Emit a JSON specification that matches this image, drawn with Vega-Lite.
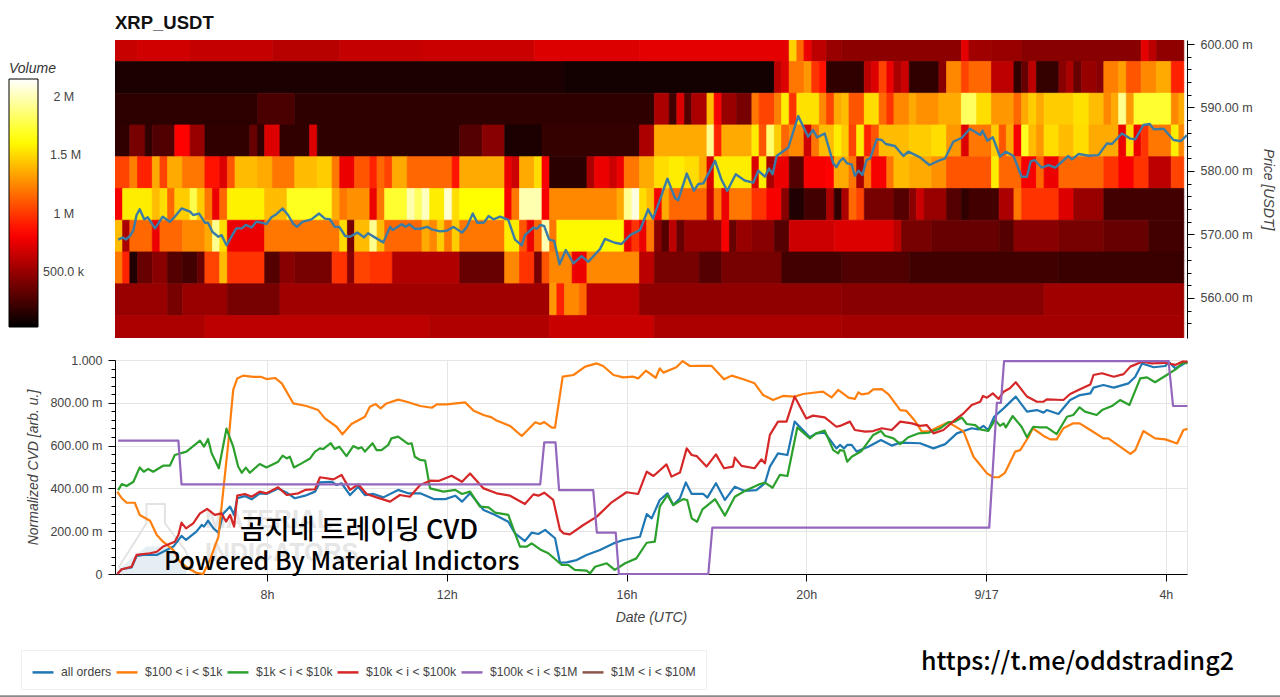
{"$schema":"https://vega.github.io/schema/vega-lite/v6.json","padding":{"left":-2,"top":13,"right":0,"bottom":0},"background":"white","spacing":15,"config":{"font":"Liberation Sans","view":{"stroke":null},"axis":{"labelFont":"Liberation Sans","titleFont":"Liberation Sans","labelFontSize":12.5,"labelColor":"#444","titleColor":"#444","titleFontSize":14,"titleFontStyle":"italic","titleFontWeight":"normal"},"legend":{"labelFont":"Liberation Sans","titleFont":"Liberation Sans"}},
"datasets":{
"heat":[
{"a":4.62,"b":5.12,"lo":597.25,"hi":602.25,"v":650},{"a":5.12,"b":6.29,"lo":597.25,"hi":602.25,"v":680},{"a":6.29,"b":8.12,"lo":597.25,"hi":602.25,"v":640},{"a":8.12,"b":9.62,"lo":597.25,"hi":602.25,"v":600},{"a":9.62,"b":11.45,"lo":597.25,"hi":602.25,"v":640},{"a":11.45,"b":13.95,"lo":597.25,"hi":602.25,"v":660},{"a":13.95,"b":16.29,"lo":597.25,"hi":602.25,"v":720},{"a":16.29,"b":19.62,"lo":597.25,"hi":602.25,"v":740},{"a":19.62,"b":19.79,"lo":597.25,"hi":602.25,"v":1480},{"a":19.79,"b":19.95,"lo":597.25,"hi":602.25,"v":1145},{"a":19.95,"b":20.12,"lo":597.25,"hi":602.25,"v":770},{"a":20.12,"b":20.45,"lo":597.25,"hi":602.25,"v":615},{"a":20.45,"b":20.79,"lo":597.25,"hi":602.25,"v":505},{"a":20.79,"b":23.45,"lo":597.25,"hi":602.25,"v":470},{"a":23.45,"b":23.62,"lo":597.25,"hi":602.25,"v":740},{"a":23.62,"b":24.12,"lo":597.25,"hi":602.25,"v":530},{"a":24.12,"b":24.79,"lo":597.25,"hi":602.25,"v":505},{"a":24.79,"b":27.45,"lo":597.25,"hi":602.25,"v":455},{"a":27.45,"b":27.62,"lo":597.25,"hi":602.25,"v":740},{"a":27.62,"b":27.79,"lo":597.25,"hi":602.25,"v":615},{"a":27.79,"b":28.4,"lo":597.25,"hi":602.25,"v":480},
{"a":4.62,"b":14.62,"lo":592.25,"hi":597.25,"v":110},{"a":14.62,"b":19.29,"lo":592.25,"hi":597.25,"v":90},{"a":19.29,"b":19.45,"lo":592.25,"hi":597.25,"v":615},{"a":19.45,"b":19.62,"lo":592.25,"hi":597.25,"v":720},{"a":19.62,"b":19.95,"lo":592.25,"hi":597.25,"v":1195},{"a":19.95,"b":20.12,"lo":592.25,"hi":597.25,"v":1300},{"a":20.12,"b":20.29,"lo":592.25,"hi":597.25,"v":985},{"a":20.29,"b":20.45,"lo":592.25,"hi":597.25,"v":880},{"a":20.45,"b":21.29,"lo":592.25,"hi":597.25,"v":180},{"a":21.29,"b":21.45,"lo":592.25,"hi":597.25,"v":615},{"a":21.45,"b":21.62,"lo":592.25,"hi":597.25,"v":720},{"a":21.62,"b":21.79,"lo":592.25,"hi":597.25,"v":1035},{"a":21.79,"b":21.95,"lo":592.25,"hi":597.25,"v":770},{"a":21.95,"b":22.12,"lo":592.25,"hi":597.25,"v":560},{"a":22.12,"b":22.29,"lo":592.25,"hi":597.25,"v":665},{"a":22.29,"b":22.95,"lo":592.25,"hi":597.25,"v":180},{"a":22.95,"b":23.12,"lo":592.25,"hi":597.25,"v":455},{"a":23.12,"b":23.45,"lo":592.25,"hi":597.25,"v":1250},{"a":23.45,"b":23.62,"lo":592.25,"hi":597.25,"v":1035},{"a":23.62,"b":24.12,"lo":592.25,"hi":597.25,"v":1145},{"a":24.12,"b":24.62,"lo":592.25,"hi":597.25,"v":615},{"a":24.62,"b":24.79,"lo":592.25,"hi":597.25,"v":180},{"a":24.79,"b":24.95,"lo":592.25,"hi":597.25,"v":350},{"a":24.95,"b":25.12,"lo":592.25,"hi":597.25,"v":615},{"a":25.12,"b":25.62,"lo":592.25,"hi":597.25,"v":195},{"a":25.62,"b":25.79,"lo":592.25,"hi":597.25,"v":455},{"a":25.79,"b":25.95,"lo":592.25,"hi":597.25,"v":560},{"a":25.95,"b":26.12,"lo":592.25,"hi":597.25,"v":350},{"a":26.12,"b":26.45,"lo":592.25,"hi":597.25,"v":505},{"a":26.45,"b":26.62,"lo":592.25,"hi":597.25,"v":455},{"a":26.62,"b":26.95,"lo":592.25,"hi":597.25,"v":1225},{"a":26.95,"b":27.12,"lo":592.25,"hi":597.25,"v":1325},{"a":27.12,"b":27.45,"lo":592.25,"hi":597.25,"v":1090},{"a":27.45,"b":27.79,"lo":592.25,"hi":597.25,"v":1250},{"a":27.79,"b":28.12,"lo":592.25,"hi":597.25,"v":1355},{"a":28.12,"b":28.4,"lo":592.25,"hi":597.25,"v":930},
{"a":4.62,"b":7.79,"lo":587.25,"hi":592.25,"v":170},{"a":7.79,"b":8.62,"lo":587.25,"hi":592.25,"v":260},{"a":8.62,"b":16.62,"lo":587.25,"hi":592.25,"v":175},{"a":16.62,"b":16.95,"lo":587.25,"hi":592.25,"v":560},{"a":16.95,"b":17.12,"lo":587.25,"hi":592.25,"v":230},{"a":17.12,"b":17.29,"lo":587.25,"hi":592.25,"v":720},{"a":17.29,"b":17.45,"lo":587.25,"hi":592.25,"v":295},{"a":17.45,"b":17.79,"lo":587.25,"hi":592.25,"v":560},{"a":17.79,"b":17.95,"lo":587.25,"hi":592.25,"v":1410},{"a":17.95,"b":18.12,"lo":587.25,"hi":592.25,"v":800},{"a":18.12,"b":18.45,"lo":587.25,"hi":592.25,"v":505},{"a":18.45,"b":18.79,"lo":587.25,"hi":592.25,"v":400},{"a":18.79,"b":18.95,"lo":587.25,"hi":592.25,"v":1195},{"a":18.95,"b":19.29,"lo":587.25,"hi":592.25,"v":1035},{"a":19.29,"b":19.45,"lo":587.25,"hi":592.25,"v":1225},{"a":19.45,"b":19.62,"lo":587.25,"hi":592.25,"v":1565},{"a":19.62,"b":19.79,"lo":587.25,"hi":592.25,"v":985},{"a":19.79,"b":20.29,"lo":587.25,"hi":592.25,"v":1525},{"a":20.29,"b":20.45,"lo":587.25,"hi":592.25,"v":1250},{"a":20.45,"b":20.62,"lo":587.25,"hi":592.25,"v":1035},{"a":20.62,"b":20.79,"lo":587.25,"hi":592.25,"v":1355},{"a":20.79,"b":20.95,"lo":587.25,"hi":592.25,"v":1410},{"a":20.95,"b":21.29,"lo":587.25,"hi":592.25,"v":1090},{"a":21.29,"b":21.62,"lo":587.25,"hi":592.25,"v":1515},{"a":21.62,"b":21.79,"lo":587.25,"hi":592.25,"v":1145},{"a":21.79,"b":21.95,"lo":587.25,"hi":592.25,"v":985},{"a":21.95,"b":22.29,"lo":587.25,"hi":592.25,"v":1250},{"a":22.29,"b":22.45,"lo":587.25,"hi":592.25,"v":1355},{"a":22.45,"b":22.95,"lo":587.25,"hi":592.25,"v":1275},{"a":22.95,"b":23.45,"lo":587.25,"hi":592.25,"v":1355},{"a":23.45,"b":23.79,"lo":587.25,"hi":592.25,"v":1820},{"a":23.79,"b":24.12,"lo":587.25,"hi":592.25,"v":1515},{"a":24.12,"b":24.62,"lo":587.25,"hi":592.25,"v":1300},{"a":24.62,"b":24.79,"lo":587.25,"hi":592.25,"v":1145},{"a":24.79,"b":24.95,"lo":587.25,"hi":592.25,"v":1355},{"a":24.95,"b":25.12,"lo":587.25,"hi":592.25,"v":1460},{"a":25.12,"b":25.29,"lo":587.25,"hi":592.25,"v":1355},{"a":25.29,"b":25.95,"lo":587.25,"hi":592.25,"v":1460},{"a":25.95,"b":26.29,"lo":587.25,"hi":592.25,"v":1525},{"a":26.29,"b":26.62,"lo":587.25,"hi":592.25,"v":1410},{"a":26.62,"b":26.79,"lo":587.25,"hi":592.25,"v":1250},{"a":26.79,"b":26.95,"lo":587.25,"hi":592.25,"v":1355},{"a":26.95,"b":27.12,"lo":587.25,"hi":592.25,"v":1920},{"a":27.12,"b":27.29,"lo":587.25,"hi":592.25,"v":1300},{"a":27.29,"b":28.12,"lo":587.25,"hi":592.25,"v":1720},{"a":28.12,"b":28.29,"lo":587.25,"hi":592.25,"v":1250},{"a":28.29,"b":28.4,"lo":587.25,"hi":592.25,"v":1355},
{"a":4.62,"b":4.95,"lo":582.25,"hi":587.25,"v":180},{"a":4.95,"b":5.29,"lo":582.25,"hi":587.25,"v":400},{"a":5.29,"b":5.45,"lo":582.25,"hi":587.25,"v":180},{"a":5.45,"b":5.95,"lo":582.25,"hi":587.25,"v":280},{"a":5.95,"b":6.29,"lo":582.25,"hi":587.25,"v":830},{"a":6.29,"b":6.62,"lo":582.25,"hi":587.25,"v":505},{"a":6.62,"b":7.62,"lo":582.25,"hi":587.25,"v":180},{"a":7.62,"b":7.79,"lo":582.25,"hi":587.25,"v":350},{"a":7.79,"b":7.95,"lo":582.25,"hi":587.25,"v":180},{"a":7.95,"b":8.29,"lo":582.25,"hi":587.25,"v":720},{"a":8.29,"b":8.95,"lo":582.25,"hi":587.25,"v":180},{"a":8.95,"b":9.12,"lo":582.25,"hi":587.25,"v":720},{"a":9.12,"b":12.29,"lo":582.25,"hi":587.25,"v":175},{"a":12.29,"b":12.79,"lo":582.25,"hi":587.25,"v":295},{"a":12.79,"b":13.29,"lo":582.25,"hi":587.25,"v":455},{"a":13.29,"b":14.12,"lo":582.25,"hi":587.25,"v":110},{"a":14.12,"b":16.29,"lo":582.25,"hi":587.25,"v":195},{"a":16.29,"b":16.62,"lo":582.25,"hi":587.25,"v":560},{"a":16.62,"b":17.79,"lo":582.25,"hi":587.25,"v":1355},{"a":17.79,"b":17.95,"lo":582.25,"hi":587.25,"v":1920},{"a":17.95,"b":18.12,"lo":582.25,"hi":587.25,"v":930},{"a":18.12,"b":18.79,"lo":582.25,"hi":587.25,"v":1355},{"a":18.79,"b":18.95,"lo":582.25,"hi":587.25,"v":1565},{"a":18.95,"b":19.12,"lo":582.25,"hi":587.25,"v":1090},{"a":19.12,"b":19.29,"lo":582.25,"hi":587.25,"v":1850},{"a":19.29,"b":19.45,"lo":582.25,"hi":587.25,"v":1460},{"a":19.45,"b":19.62,"lo":582.25,"hi":587.25,"v":1145},{"a":19.62,"b":19.95,"lo":582.25,"hi":587.25,"v":1250},{"a":19.95,"b":20.12,"lo":582.25,"hi":587.25,"v":665},{"a":20.12,"b":20.29,"lo":582.25,"hi":587.25,"v":1195},{"a":20.29,"b":20.62,"lo":582.25,"hi":587.25,"v":1410},{"a":20.62,"b":20.79,"lo":582.25,"hi":587.25,"v":1565},{"a":20.79,"b":20.95,"lo":582.25,"hi":587.25,"v":1460},{"a":20.95,"b":21.12,"lo":582.25,"hi":587.25,"v":1035},{"a":21.12,"b":21.29,"lo":582.25,"hi":587.25,"v":1565},{"a":21.29,"b":21.45,"lo":582.25,"hi":587.25,"v":930},{"a":21.45,"b":21.62,"lo":582.25,"hi":587.25,"v":1090},{"a":21.62,"b":22.29,"lo":582.25,"hi":587.25,"v":1410},{"a":22.29,"b":22.79,"lo":582.25,"hi":587.25,"v":1460},{"a":22.79,"b":23.12,"lo":582.25,"hi":587.25,"v":1515},{"a":23.12,"b":23.45,"lo":582.25,"hi":587.25,"v":1300},{"a":23.45,"b":23.62,"lo":582.25,"hi":587.25,"v":720},{"a":23.62,"b":24.12,"lo":582.25,"hi":587.25,"v":1195},{"a":24.12,"b":24.29,"lo":582.25,"hi":587.25,"v":1460},{"a":24.29,"b":24.45,"lo":582.25,"hi":587.25,"v":1090},{"a":24.45,"b":24.62,"lo":582.25,"hi":587.25,"v":1355},{"a":24.62,"b":24.79,"lo":582.25,"hi":587.25,"v":800},{"a":24.79,"b":24.95,"lo":582.25,"hi":587.25,"v":1685},{"a":24.95,"b":25.12,"lo":582.25,"hi":587.25,"v":1410},{"a":25.12,"b":25.29,"lo":582.25,"hi":587.25,"v":1300},{"a":25.29,"b":25.62,"lo":582.25,"hi":587.25,"v":1515},{"a":25.62,"b":25.95,"lo":582.25,"hi":587.25,"v":1410},{"a":25.95,"b":26.29,"lo":582.25,"hi":587.25,"v":1515},{"a":26.29,"b":26.95,"lo":582.25,"hi":587.25,"v":1355},{"a":26.95,"b":27.12,"lo":582.25,"hi":587.25,"v":770},{"a":27.12,"b":27.29,"lo":582.25,"hi":587.25,"v":1515},{"a":27.29,"b":27.45,"lo":582.25,"hi":587.25,"v":770},{"a":27.45,"b":27.62,"lo":582.25,"hi":587.25,"v":985},{"a":27.62,"b":28.12,"lo":582.25,"hi":587.25,"v":1195},{"a":28.12,"b":28.29,"lo":582.25,"hi":587.25,"v":1565},{"a":28.29,"b":28.4,"lo":582.25,"hi":587.25,"v":1250},
{"a":4.62,"b":4.95,"lo":577.25,"hi":582.25,"v":1035},{"a":4.95,"b":5.12,"lo":577.25,"hi":582.25,"v":1225},{"a":5.12,"b":5.45,"lo":577.25,"hi":582.25,"v":930},{"a":5.45,"b":5.62,"lo":577.25,"hi":582.25,"v":1355},{"a":5.62,"b":5.79,"lo":577.25,"hi":582.25,"v":1035},{"a":5.79,"b":6.12,"lo":577.25,"hi":582.25,"v":1355},{"a":6.12,"b":6.62,"lo":577.25,"hi":582.25,"v":1195},{"a":6.62,"b":6.95,"lo":577.25,"hi":582.25,"v":880},{"a":6.95,"b":7.12,"lo":577.25,"hi":582.25,"v":720},{"a":7.12,"b":7.29,"lo":577.25,"hi":582.25,"v":1090},{"a":7.29,"b":7.79,"lo":577.25,"hi":582.25,"v":1410},{"a":7.79,"b":8.12,"lo":577.25,"hi":582.25,"v":1355},{"a":8.12,"b":8.62,"lo":577.25,"hi":582.25,"v":1195},{"a":8.62,"b":9.12,"lo":577.25,"hi":582.25,"v":1410},{"a":9.12,"b":9.45,"lo":577.25,"hi":582.25,"v":1460},{"a":9.45,"b":9.62,"lo":577.25,"hi":582.25,"v":1195},{"a":9.62,"b":9.95,"lo":577.25,"hi":582.25,"v":770},{"a":9.95,"b":10.29,"lo":577.25,"hi":582.25,"v":1090},{"a":10.29,"b":10.45,"lo":577.25,"hi":582.25,"v":930},{"a":10.45,"b":10.62,"lo":577.25,"hi":582.25,"v":1145},{"a":10.62,"b":10.79,"lo":577.25,"hi":582.25,"v":1035},{"a":10.79,"b":11.12,"lo":577.25,"hi":582.25,"v":1355},{"a":11.12,"b":12.12,"lo":577.25,"hi":582.25,"v":1145},{"a":12.12,"b":12.29,"lo":577.25,"hi":582.25,"v":880},{"a":12.29,"b":13.29,"lo":577.25,"hi":582.25,"v":1355},{"a":13.29,"b":13.45,"lo":577.25,"hi":582.25,"v":770},{"a":13.45,"b":13.62,"lo":577.25,"hi":582.25,"v":665},{"a":13.62,"b":13.95,"lo":577.25,"hi":582.25,"v":1355},{"a":13.95,"b":14.12,"lo":577.25,"hi":582.25,"v":1515},{"a":14.12,"b":14.29,"lo":577.25,"hi":582.25,"v":800},{"a":14.29,"b":15.12,"lo":577.25,"hi":582.25,"v":160},{"a":15.12,"b":15.29,"lo":577.25,"hi":582.25,"v":560},{"a":15.29,"b":15.62,"lo":577.25,"hi":582.25,"v":770},{"a":15.62,"b":15.79,"lo":577.25,"hi":582.25,"v":665},{"a":15.79,"b":15.95,"lo":577.25,"hi":582.25,"v":770},{"a":15.95,"b":16.29,"lo":577.25,"hi":582.25,"v":1195},{"a":16.29,"b":16.62,"lo":577.25,"hi":582.25,"v":1355},{"a":16.62,"b":16.95,"lo":577.25,"hi":582.25,"v":1515},{"a":16.95,"b":17.29,"lo":577.25,"hi":582.25,"v":1565},{"a":17.29,"b":17.62,"lo":577.25,"hi":582.25,"v":1515},{"a":17.62,"b":17.79,"lo":577.25,"hi":582.25,"v":1355},{"a":17.79,"b":17.95,"lo":577.25,"hi":582.25,"v":720},{"a":17.95,"b":18.79,"lo":577.25,"hi":582.25,"v":1565},{"a":18.79,"b":18.95,"lo":577.25,"hi":582.25,"v":720},{"a":18.95,"b":19.12,"lo":577.25,"hi":582.25,"v":1565},{"a":19.12,"b":19.29,"lo":577.25,"hi":582.25,"v":560},{"a":19.29,"b":19.62,"lo":577.25,"hi":582.25,"v":770},{"a":19.62,"b":19.95,"lo":577.25,"hi":582.25,"v":295},{"a":19.95,"b":20.45,"lo":577.25,"hi":582.25,"v":800},{"a":20.45,"b":20.62,"lo":577.25,"hi":582.25,"v":830},{"a":20.62,"b":20.95,"lo":577.25,"hi":582.25,"v":1355},{"a":20.95,"b":21.12,"lo":577.25,"hi":582.25,"v":1195},{"a":21.12,"b":21.29,"lo":577.25,"hi":582.25,"v":560},{"a":21.29,"b":21.45,"lo":577.25,"hi":582.25,"v":1195},{"a":21.45,"b":21.79,"lo":577.25,"hi":582.25,"v":800},{"a":21.79,"b":21.95,"lo":577.25,"hi":582.25,"v":1195},{"a":21.95,"b":22.29,"lo":577.25,"hi":582.25,"v":1410},{"a":22.29,"b":22.79,"lo":577.25,"hi":582.25,"v":1355},{"a":22.79,"b":23.12,"lo":577.25,"hi":582.25,"v":1275},{"a":23.12,"b":24.12,"lo":577.25,"hi":582.25,"v":1090},{"a":24.12,"b":24.29,"lo":577.25,"hi":582.25,"v":1565},{"a":24.29,"b":24.79,"lo":577.25,"hi":582.25,"v":1145},{"a":24.79,"b":25.12,"lo":577.25,"hi":582.25,"v":800},{"a":25.12,"b":25.29,"lo":577.25,"hi":582.25,"v":1145},{"a":25.29,"b":25.62,"lo":577.25,"hi":582.25,"v":770},{"a":25.62,"b":26.62,"lo":577.25,"hi":582.25,"v":1145},{"a":26.62,"b":26.95,"lo":577.25,"hi":582.25,"v":985},{"a":26.95,"b":27.29,"lo":577.25,"hi":582.25,"v":800},{"a":27.29,"b":27.62,"lo":577.25,"hi":582.25,"v":985},{"a":27.62,"b":28.12,"lo":577.25,"hi":582.25,"v":615},{"a":28.12,"b":28.4,"lo":577.25,"hi":582.25,"v":1035},
{"a":4.62,"b":4.79,"lo":572.25,"hi":577.25,"v":800},{"a":4.79,"b":5.45,"lo":572.25,"hi":577.25,"v":1565},{"a":5.45,"b":5.62,"lo":572.25,"hi":577.25,"v":1410},{"a":5.62,"b":5.79,"lo":572.25,"hi":577.25,"v":1515},{"a":5.79,"b":5.95,"lo":572.25,"hi":577.25,"v":1145},{"a":5.95,"b":6.29,"lo":572.25,"hi":577.25,"v":1460},{"a":6.29,"b":6.45,"lo":572.25,"hi":577.25,"v":1785},{"a":6.45,"b":6.62,"lo":572.25,"hi":577.25,"v":1460},{"a":6.62,"b":6.79,"lo":572.25,"hi":577.25,"v":1195},{"a":6.79,"b":6.95,"lo":572.25,"hi":577.25,"v":770},{"a":6.95,"b":7.12,"lo":572.25,"hi":577.25,"v":1145},{"a":7.12,"b":7.95,"lo":572.25,"hi":577.25,"v":1580},{"a":7.95,"b":8.45,"lo":572.25,"hi":577.25,"v":1410},{"a":8.45,"b":9.45,"lo":572.25,"hi":577.25,"v":1685},{"a":9.45,"b":9.62,"lo":572.25,"hi":577.25,"v":1355},{"a":9.62,"b":9.79,"lo":572.25,"hi":577.25,"v":1195},{"a":9.79,"b":10.29,"lo":572.25,"hi":577.25,"v":1275},{"a":10.29,"b":10.45,"lo":572.25,"hi":577.25,"v":770},{"a":10.45,"b":10.62,"lo":572.25,"hi":577.25,"v":1195},{"a":10.62,"b":11.12,"lo":572.25,"hi":577.25,"v":1720},{"a":11.12,"b":11.29,"lo":572.25,"hi":577.25,"v":1985},{"a":11.29,"b":11.45,"lo":572.25,"hi":577.25,"v":1820},{"a":11.45,"b":11.62,"lo":572.25,"hi":577.25,"v":2020},{"a":11.62,"b":11.95,"lo":572.25,"hi":577.25,"v":1565},{"a":11.95,"b":12.12,"lo":572.25,"hi":577.25,"v":2050},{"a":12.12,"b":12.29,"lo":572.25,"hi":577.25,"v":1515},{"a":12.29,"b":13.29,"lo":572.25,"hi":577.25,"v":1620},{"a":13.29,"b":13.45,"lo":572.25,"hi":577.25,"v":800},{"a":13.45,"b":13.62,"lo":572.25,"hi":577.25,"v":1195},{"a":13.62,"b":14.12,"lo":572.25,"hi":577.25,"v":1985},{"a":14.12,"b":14.29,"lo":572.25,"hi":577.25,"v":800},{"a":14.29,"b":15.79,"lo":572.25,"hi":577.25,"v":1250},{"a":15.79,"b":15.95,"lo":572.25,"hi":577.25,"v":1355},{"a":15.95,"b":16.12,"lo":572.25,"hi":577.25,"v":1920},{"a":16.12,"b":16.29,"lo":572.25,"hi":577.25,"v":2085},{"a":16.29,"b":16.45,"lo":572.25,"hi":577.25,"v":1515},{"a":16.45,"b":16.62,"lo":572.25,"hi":577.25,"v":1410},{"a":16.62,"b":16.79,"lo":572.25,"hi":577.25,"v":800},{"a":16.79,"b":16.95,"lo":572.25,"hi":577.25,"v":1355},{"a":16.95,"b":17.79,"lo":572.25,"hi":577.25,"v":1145},{"a":17.79,"b":17.95,"lo":572.25,"hi":577.25,"v":665},{"a":17.95,"b":18.12,"lo":572.25,"hi":577.25,"v":1195},{"a":18.12,"b":18.29,"lo":572.25,"hi":577.25,"v":770},{"a":18.29,"b":18.79,"lo":572.25,"hi":577.25,"v":1195},{"a":18.79,"b":19.12,"lo":572.25,"hi":577.25,"v":985},{"a":19.12,"b":19.45,"lo":572.25,"hi":577.25,"v":800},{"a":19.45,"b":19.62,"lo":572.25,"hi":577.25,"v":455},{"a":19.62,"b":19.95,"lo":572.25,"hi":577.25,"v":130},{"a":19.95,"b":20.45,"lo":572.25,"hi":577.25,"v":240},{"a":20.45,"b":20.62,"lo":572.25,"hi":577.25,"v":560},{"a":20.62,"b":20.79,"lo":572.25,"hi":577.25,"v":180},{"a":20.79,"b":20.95,"lo":572.25,"hi":577.25,"v":560},{"a":20.95,"b":21.12,"lo":572.25,"hi":577.25,"v":1145},{"a":21.12,"b":21.29,"lo":572.25,"hi":577.25,"v":1035},{"a":21.29,"b":21.95,"lo":572.25,"hi":577.25,"v":400},{"a":21.95,"b":22.29,"lo":572.25,"hi":577.25,"v":295},{"a":22.29,"b":22.45,"lo":572.25,"hi":577.25,"v":455},{"a":22.45,"b":22.62,"lo":572.25,"hi":577.25,"v":665},{"a":22.62,"b":23.12,"lo":572.25,"hi":577.25,"v":505},{"a":23.12,"b":23.45,"lo":572.25,"hi":577.25,"v":295},{"a":23.45,"b":23.62,"lo":572.25,"hi":577.25,"v":180},{"a":23.62,"b":24.29,"lo":572.25,"hi":577.25,"v":240},{"a":24.29,"b":24.62,"lo":572.25,"hi":577.25,"v":560},{"a":24.62,"b":24.79,"lo":572.25,"hi":577.25,"v":1195},{"a":24.79,"b":25.62,"lo":572.25,"hi":577.25,"v":985},{"a":25.62,"b":25.95,"lo":572.25,"hi":577.25,"v":720},{"a":25.95,"b":26.62,"lo":572.25,"hi":577.25,"v":505},{"a":26.62,"b":28.4,"lo":572.25,"hi":577.25,"v":240},
{"a":4.62,"b":4.79,"lo":567.25,"hi":572.25,"v":1410},{"a":4.79,"b":4.95,"lo":567.25,"hi":572.25,"v":560},{"a":4.95,"b":5.45,"lo":567.25,"hi":572.25,"v":1145},{"a":5.45,"b":5.62,"lo":567.25,"hi":572.25,"v":770},{"a":5.62,"b":6.12,"lo":567.25,"hi":572.25,"v":1145},{"a":6.12,"b":6.62,"lo":567.25,"hi":572.25,"v":1250},{"a":6.62,"b":6.79,"lo":567.25,"hi":572.25,"v":1355},{"a":6.79,"b":6.95,"lo":567.25,"hi":572.25,"v":1920},{"a":6.95,"b":7.12,"lo":567.25,"hi":572.25,"v":1515},{"a":7.12,"b":7.95,"lo":567.25,"hi":572.25,"v":770},{"a":7.95,"b":9.62,"lo":567.25,"hi":572.25,"v":1195},{"a":9.62,"b":9.79,"lo":567.25,"hi":572.25,"v":1515},{"a":9.79,"b":9.95,"lo":567.25,"hi":572.25,"v":400},{"a":9.95,"b":10.29,"lo":567.25,"hi":572.25,"v":1410},{"a":10.29,"b":10.45,"lo":567.25,"hi":572.25,"v":1920},{"a":10.45,"b":10.62,"lo":567.25,"hi":572.25,"v":1410},{"a":10.62,"b":11.45,"lo":567.25,"hi":572.25,"v":1145},{"a":11.45,"b":11.62,"lo":567.25,"hi":572.25,"v":1355},{"a":11.62,"b":11.79,"lo":567.25,"hi":572.25,"v":1250},{"a":11.79,"b":11.95,"lo":567.25,"hi":572.25,"v":1460},{"a":11.95,"b":12.12,"lo":567.25,"hi":572.25,"v":1195},{"a":12.12,"b":12.29,"lo":567.25,"hi":572.25,"v":1460},{"a":12.29,"b":13.29,"lo":567.25,"hi":572.25,"v":1195},{"a":13.29,"b":13.62,"lo":567.25,"hi":572.25,"v":1565},{"a":13.62,"b":13.79,"lo":567.25,"hi":572.25,"v":1090},{"a":13.79,"b":13.95,"lo":567.25,"hi":572.25,"v":770},{"a":13.95,"b":14.12,"lo":567.25,"hi":572.25,"v":1145},{"a":14.12,"b":14.29,"lo":567.25,"hi":572.25,"v":1985},{"a":14.29,"b":14.45,"lo":567.25,"hi":572.25,"v":1195},{"a":14.45,"b":15.95,"lo":567.25,"hi":572.25,"v":1600},{"a":15.95,"b":16.12,"lo":567.25,"hi":572.25,"v":770},{"a":16.12,"b":16.29,"lo":567.25,"hi":572.25,"v":985},{"a":16.29,"b":16.45,"lo":567.25,"hi":572.25,"v":770},{"a":16.45,"b":16.62,"lo":567.25,"hi":572.25,"v":1195},{"a":16.62,"b":16.79,"lo":567.25,"hi":572.25,"v":455},{"a":16.79,"b":16.95,"lo":567.25,"hi":572.25,"v":295},{"a":16.95,"b":17.12,"lo":567.25,"hi":572.25,"v":615},{"a":17.12,"b":17.29,"lo":567.25,"hi":572.25,"v":350},{"a":17.29,"b":18.12,"lo":567.25,"hi":572.25,"v":505},{"a":18.12,"b":18.29,"lo":567.25,"hi":572.25,"v":800},{"a":18.29,"b":18.45,"lo":567.25,"hi":572.25,"v":350},{"a":18.45,"b":18.79,"lo":567.25,"hi":572.25,"v":505},{"a":18.79,"b":19.29,"lo":567.25,"hi":572.25,"v":455},{"a":19.29,"b":19.62,"lo":567.25,"hi":572.25,"v":295},{"a":19.62,"b":20.62,"lo":567.25,"hi":572.25,"v":665},{"a":20.62,"b":21.95,"lo":567.25,"hi":572.25,"v":720},{"a":21.95,"b":22.12,"lo":567.25,"hi":572.25,"v":615},{"a":22.12,"b":22.79,"lo":567.25,"hi":572.25,"v":400},{"a":22.79,"b":24.29,"lo":567.25,"hi":572.25,"v":350},{"a":24.29,"b":24.62,"lo":567.25,"hi":572.25,"v":295},{"a":24.62,"b":25.62,"lo":567.25,"hi":572.25,"v":455},{"a":25.62,"b":26.62,"lo":567.25,"hi":572.25,"v":400},{"a":26.62,"b":27.62,"lo":567.25,"hi":572.25,"v":350},{"a":27.62,"b":28.4,"lo":567.25,"hi":572.25,"v":240},
{"a":4.62,"b":4.79,"lo":562.25,"hi":567.25,"v":1195},{"a":4.79,"b":4.95,"lo":562.25,"hi":567.25,"v":930},{"a":4.95,"b":5.12,"lo":562.25,"hi":567.25,"v":130},{"a":5.12,"b":5.45,"lo":562.25,"hi":567.25,"v":350},{"a":5.45,"b":5.79,"lo":562.25,"hi":567.25,"v":455},{"a":5.79,"b":6.12,"lo":562.25,"hi":567.25,"v":295},{"a":6.12,"b":6.45,"lo":562.25,"hi":567.25,"v":240},{"a":6.45,"b":6.62,"lo":562.25,"hi":567.25,"v":350},{"a":6.62,"b":6.95,"lo":562.25,"hi":567.25,"v":1035},{"a":6.95,"b":7.12,"lo":562.25,"hi":567.25,"v":1410},{"a":7.12,"b":7.95,"lo":562.25,"hi":567.25,"v":985},{"a":7.95,"b":8.29,"lo":562.25,"hi":567.25,"v":295},{"a":8.29,"b":8.62,"lo":562.25,"hi":567.25,"v":455},{"a":8.62,"b":9.45,"lo":562.25,"hi":567.25,"v":400},{"a":9.45,"b":9.79,"lo":562.25,"hi":567.25,"v":985},{"a":9.79,"b":9.95,"lo":562.25,"hi":567.25,"v":455},{"a":9.95,"b":10.29,"lo":562.25,"hi":567.25,"v":1035},{"a":10.29,"b":10.79,"lo":562.25,"hi":567.25,"v":985},{"a":10.79,"b":12.29,"lo":562.25,"hi":567.25,"v":580},{"a":12.29,"b":13.29,"lo":562.25,"hi":567.25,"v":350},{"a":13.29,"b":13.62,"lo":562.25,"hi":567.25,"v":1250},{"a":13.62,"b":13.95,"lo":562.25,"hi":567.25,"v":985},{"a":13.95,"b":14.12,"lo":562.25,"hi":567.25,"v":400},{"a":14.12,"b":14.29,"lo":562.25,"hi":567.25,"v":1090},{"a":14.29,"b":14.79,"lo":562.25,"hi":567.25,"v":1250},{"a":14.79,"b":15.12,"lo":562.25,"hi":567.25,"v":770},{"a":15.12,"b":16.29,"lo":562.25,"hi":567.25,"v":1250},{"a":16.29,"b":16.62,"lo":562.25,"hi":567.25,"v":615},{"a":16.62,"b":17.62,"lo":562.25,"hi":567.25,"v":400},{"a":17.62,"b":18.12,"lo":562.25,"hi":567.25,"v":295},{"a":18.12,"b":19.45,"lo":562.25,"hi":567.25,"v":400},{"a":19.45,"b":20.79,"lo":562.25,"hi":567.25,"v":240},{"a":20.79,"b":22.29,"lo":562.25,"hi":567.25,"v":280},{"a":22.29,"b":25.62,"lo":562.25,"hi":567.25,"v":230},{"a":25.62,"b":28.4,"lo":562.25,"hi":567.25,"v":210},
{"a":4.62,"b":5.79,"lo":557.25,"hi":562.25,"v":505},{"a":5.79,"b":6.12,"lo":557.25,"hi":562.25,"v":400},{"a":6.12,"b":7.12,"lo":557.25,"hi":562.25,"v":505},{"a":7.12,"b":8.29,"lo":557.25,"hi":562.25,"v":400},{"a":8.29,"b":14.29,"lo":557.25,"hi":562.25,"v":530},{"a":14.29,"b":14.45,"lo":557.25,"hi":562.25,"v":1300},{"a":14.45,"b":14.62,"lo":557.25,"hi":562.25,"v":930},{"a":14.62,"b":14.95,"lo":557.25,"hi":562.25,"v":1250},{"a":14.95,"b":15.12,"lo":557.25,"hi":562.25,"v":1145},{"a":15.12,"b":16.29,"lo":557.25,"hi":562.25,"v":615},{"a":16.29,"b":20.79,"lo":557.25,"hi":562.25,"v":480},{"a":20.79,"b":25.29,"lo":557.25,"hi":562.25,"v":455},{"a":25.29,"b":28.4,"lo":557.25,"hi":562.25,"v":530},
{"a":4.62,"b":6.62,"lo":552.25,"hi":557.25,"v":560},{"a":6.62,"b":11.62,"lo":552.25,"hi":557.25,"v":615},{"a":11.62,"b":14.29,"lo":552.25,"hi":557.25,"v":580},{"a":14.29,"b":16.62,"lo":552.25,"hi":557.25,"v":655},{"a":16.62,"b":20.79,"lo":552.25,"hi":557.25,"v":560},{"a":20.79,"b":28.4,"lo":552.25,"hi":557.25,"v":545}
],
"price":[{"h":4.69,"p":569.2},{"h":4.8,"p":569.55},{"h":4.86,"p":569.2},{"h":4.95,"p":569.76},{"h":5.03,"p":570.7},{"h":5.1,"p":573.07},{"h":5.17,"p":573.96},{"h":5.27,"p":572.38},{"h":5.35,"p":572.7},{"h":5.51,"p":570.97},{"h":5.68,"p":572.8},{"h":5.84,"p":572},{"h":5.95,"p":572.8},{"h":6.1,"p":574.1},{"h":6.29,"p":573.6},{"h":6.36,"p":573.07},{"h":6.49,"p":573.3},{"h":6.62,"p":571.86},{"h":6.69,"p":571.86},{"h":6.79,"p":570.4},{"h":6.92,"p":569.65},{"h":6.99,"p":569.9},{"h":7.1,"p":568.3},{"h":7.21,"p":569.65},{"h":7.32,"p":570.97},{"h":7.44,"p":570.97},{"h":7.53,"p":571.5},{"h":7.66,"p":571.1},{"h":7.76,"p":572},{"h":7.88,"p":571.86},{"h":7.99,"p":571.65},{"h":8.1,"p":572.7},{"h":8.21,"p":573.2},{"h":8.35,"p":574.1},{"h":8.47,"p":573.07},{"h":8.59,"p":571.65},{"h":8.67,"p":571.2},{"h":8.79,"p":572},{"h":8.99,"p":572.38},{"h":9.16,"p":573.3},{"h":9.29,"p":572.5},{"h":9.4,"p":572.4},{"h":9.51,"p":571.2},{"h":9.61,"p":571.2},{"h":9.74,"p":569.76},{"h":9.85,"p":569.65},{"h":10.01,"p":570.3},{"h":10.16,"p":569.55},{"h":10.25,"p":570.2},{"h":10.4,"p":569.55},{"h":10.59,"p":568.76},{"h":10.74,"p":571.2},{"h":10.8,"p":570.7},{"h":11,"p":571.6},{"h":11.09,"p":571.2},{"h":11.17,"p":571.6},{"h":11.29,"p":570.9},{"h":11.41,"p":570.9},{"h":11.57,"p":571.2},{"h":11.67,"p":570.8},{"h":11.85,"p":570.5},{"h":12,"p":570.6},{"h":12.15,"p":571.2},{"h":12.34,"p":570.3},{"h":12.45,"p":571.2},{"h":12.58,"p":573.3},{"h":12.68,"p":571.86},{"h":12.83,"p":571.9},{"h":12.93,"p":572.9},{"h":13.04,"p":572.4},{"h":13.19,"p":572.8},{"h":13.37,"p":572.3},{"h":13.52,"p":569.2},{"h":13.67,"p":568.3},{"h":13.74,"p":569.9},{"h":13.93,"p":571.1},{"h":14,"p":570.9},{"h":14.09,"p":571.5},{"h":14.17,"p":571.3},{"h":14.28,"p":569.2},{"h":14.39,"p":569},{"h":14.51,"p":565.3},{"h":14.65,"p":567.55},{"h":14.82,"p":565.45},{"h":15,"p":566.6},{"h":15.15,"p":565.7},{"h":15.41,"p":567.7},{"h":15.52,"p":569.3},{"h":15.74,"p":568.7},{"h":15.89,"p":568.5},{"h":16.08,"p":569.9},{"h":16.3,"p":570.7},{"h":16.48,"p":573.96},{"h":16.59,"p":572.5},{"h":16.74,"p":575.4},{"h":16.91,"p":578.8},{"h":17.08,"p":575.7},{"h":17.15,"p":575.4},{"h":17.34,"p":579.6},{"h":17.5,"p":576.9},{"h":17.6,"p":577.95},{"h":17.71,"p":578.05},{"h":17.97,"p":581.6},{"h":18.11,"p":578.7},{"h":18.24,"p":576.85},{"h":18.43,"p":579.5},{"h":18.63,"p":578.5},{"h":18.82,"p":578.16},{"h":18.93,"p":580.05},{"h":19.08,"p":579.1},{"h":19.17,"p":580.4},{"h":19.25,"p":579.5},{"h":19.34,"p":582.36},{"h":19.6,"p":583.7},{"h":19.82,"p":588.66},{"h":20.04,"p":585.4},{"h":20.15,"p":586.45},{"h":20.24,"p":585.3},{"h":20.41,"p":585.9},{"h":20.6,"p":581.2},{"h":20.67,"p":580.6},{"h":20.75,"p":581.6},{"h":20.82,"p":582},{"h":20.91,"p":581.2},{"h":21.01,"p":581.05},{"h":21.08,"p":579.26},{"h":21.16,"p":580.05},{"h":21.25,"p":579.37},{"h":21.34,"p":581.73},{"h":21.42,"p":582},{"h":21.57,"p":585.03},{"h":21.68,"p":584.88},{"h":21.77,"p":584.25},{"h":21.97,"p":583.93},{"h":22.16,"p":582.36},{"h":22.27,"p":583.04},{"h":22.53,"p":582.15},{"h":22.74,"p":580.94},{"h":22.98,"p":581.73},{"h":23.09,"p":582},{"h":23.27,"p":584.6},{"h":23.46,"p":585.24},{"h":23.64,"p":586.66},{"h":23.87,"p":585.66},{"h":23.92,"p":586.35},{"h":24.03,"p":584.77},{"h":24.15,"p":585.3},{"h":24.31,"p":582.25},{"h":24.44,"p":583.04},{"h":24.61,"p":582.36},{"h":24.79,"p":579.1},{"h":24.91,"p":579.1},{"h":24.99,"p":581.47},{"h":25.08,"p":581.73},{"h":25.24,"p":580.52},{"h":25.39,"p":580.94},{"h":25.54,"p":580.52},{"h":25.83,"p":582.36},{"h":25.91,"p":581.83},{"h":26.06,"p":582.67},{"h":26.28,"p":582.4},{"h":26.5,"p":582.5},{"h":26.69,"p":584.35},{"h":26.8,"p":584.25},{"h":27.02,"p":585.9},{"h":27.21,"p":585.1},{"h":27.32,"p":585},{"h":27.5,"p":587.24},{"h":27.64,"p":587.4},{"h":27.73,"p":586.56},{"h":27.95,"p":586.66},{"h":28.17,"p":584.88},{"h":28.33,"p":584.7},{"h":28.47,"p":585.66}],
"allOrders":[{"h":4.67,"v":0},{"h":4.77,"v":22},{"h":4.99,"v":31},{"h":5.1,"v":84},{"h":5.25,"v":89},{"h":5.55,"v":89},{"h":5.69,"v":104},{"h":5.92,"v":128},{"h":6.1,"v":178},{"h":6.2,"v":159},{"h":6.43,"v":198},{"h":6.55,"v":229},{"h":6.6,"v":221},{"h":6.69,"v":249},{"h":6.81,"v":213},{"h":6.92,"v":193},{"h":7.03,"v":283},{"h":7.18,"v":315},{"h":7.27,"v":276},{"h":7.34,"v":354},{"h":7.51,"v":364},{"h":7.66,"v":349},{"h":7.84,"v":377},{"h":7.99,"v":374},{"h":8.25,"v":400},{"h":8.44,"v":380},{"h":8.62,"v":354},{"h":8.85,"v":366},{"h":9.07,"v":385},{"h":9.18,"v":428},{"h":9.44,"v":431},{"h":9.55,"v":416},{"h":9.66,"v":424},{"h":9.85,"v":369},{"h":10.03,"v":408},{"h":10.18,"v":369},{"h":10.37,"v":374},{"h":10.59,"v":358},{"h":10.92,"v":393},{"h":11.14,"v":377},{"h":11.41,"v":377},{"h":11.71,"v":350},{"h":11.97,"v":350},{"h":12.19,"v":366},{"h":12.34,"v":338},{"h":12.52,"v":377},{"h":12.82,"v":299},{"h":13.08,"v":276},{"h":13.37,"v":244},{"h":13.52,"v":190},{"h":13.74,"v":154},{"h":13.89,"v":193},{"h":14.04,"v":187},{"h":14.19,"v":206},{"h":14.41,"v":167},{"h":14.52,"v":53},{"h":14.67,"v":54},{"h":14.89,"v":65},{"h":15.11,"v":89},{"h":15.41,"v":112},{"h":15.71,"v":143},{"h":15.93,"v":159},{"h":16.3,"v":174},{"h":16.45,"v":280},{"h":16.56,"v":260},{"h":16.74,"v":346},{"h":16.91,"v":377},{"h":17.04,"v":322},{"h":17.19,"v":354},{"h":17.32,"v":428},{"h":17.45,"v":374},{"h":17.71,"v":374},{"h":17.8,"v":357},{"h":17.99,"v":424},{"h":18.19,"v":346},{"h":18.41,"v":408},{"h":18.63,"v":388},{"h":18.89,"v":392},{"h":19.08,"v":424},{"h":19.19,"v":502},{"h":19.37,"v":564},{"h":19.58,"v":556},{"h":19.74,"v":712},{"h":20.08,"v":639},{"h":20.22,"v":657},{"h":20.41,"v":660},{"h":20.67,"v":587},{"h":20.75,"v":603},{"h":20.84,"v":587},{"h":20.91,"v":603},{"h":21.01,"v":603},{"h":21.12,"v":572},{"h":21.38,"v":595},{"h":21.66,"v":626},{"h":21.9,"v":600},{"h":22.09,"v":614},{"h":22.53,"v":611},{"h":22.83,"v":587},{"h":23.09,"v":607},{"h":23.35,"v":657},{"h":23.68,"v":681},{"h":23.83,"v":676},{"h":23.94,"v":692},{"h":24.05,"v":673},{"h":24.18,"v":735},{"h":24.39,"v":774},{"h":24.66,"v":829},{"h":24.91,"v":759},{"h":25.13,"v":766},{"h":25.28,"v":754},{"h":25.35,"v":766},{"h":25.61,"v":748},{"h":25.87,"v":813},{"h":26.09,"v":836},{"h":26.32,"v":844},{"h":26.39,"v":871},{"h":26.61,"v":883},{"h":26.84,"v":871},{"h":27.17,"v":891},{"h":27.32,"v":922},{"h":27.47,"v":984},{"h":27.73,"v":966},{"h":27.99,"v":972},{"h":28.06,"v":992},{"h":28.21,"v":961},{"h":28.36,"v":977},{"h":28.48,"v":992}],
"small":[{"h":4.67,"v":385},{"h":4.77,"v":354},{"h":4.88,"v":333},{"h":5.06,"v":333},{"h":5.17,"v":276},{"h":5.4,"v":249},{"h":5.55,"v":182},{"h":5.69,"v":151},{"h":5.92,"v":112},{"h":6.06,"v":58},{"h":6.25,"v":26},{"h":6.43,"v":6},{"h":6.58,"v":0},{"h":6.73,"v":65},{"h":6.92,"v":174},{"h":7.03,"v":392},{"h":7.14,"v":611},{"h":7.25,"v":860},{"h":7.34,"v":914},{"h":7.47,"v":927},{"h":7.7,"v":921},{"h":7.88,"v":921},{"h":7.99,"v":911},{"h":8.18,"v":916},{"h":8.33,"v":891},{"h":8.59,"v":797},{"h":8.88,"v":785},{"h":9.14,"v":766},{"h":9.29,"v":727},{"h":9.55,"v":688},{"h":9.68,"v":653},{"h":9.88,"v":701},{"h":10.18,"v":735},{"h":10.29,"v":782},{"h":10.42,"v":794},{"h":10.53,"v":774},{"h":10.66,"v":797},{"h":10.92,"v":815},{"h":11.11,"v":805},{"h":11.41,"v":785},{"h":11.67,"v":777},{"h":11.78,"v":793},{"h":12,"v":793},{"h":12.41,"v":802},{"h":12.6,"v":763},{"h":12.82,"v":743},{"h":13,"v":732},{"h":13.11,"v":717},{"h":13.41,"v":692},{"h":13.67,"v":645},{"h":13.97,"v":709},{"h":14.08,"v":701},{"h":14.17,"v":710},{"h":14.34,"v":684},{"h":14.41,"v":684},{"h":14.58,"v":922},{"h":14.82,"v":930},{"h":15.08,"v":969},{"h":15.34,"v":984},{"h":15.48,"v":972},{"h":15.71,"v":930},{"h":15.93,"v":919},{"h":16.15,"v":922},{"h":16.26,"v":914},{"h":16.43,"v":950},{"h":16.65,"v":917},{"h":16.74,"v":961},{"h":16.82,"v":941},{"h":17.11,"v":966},{"h":17.25,"v":995},{"h":17.41,"v":972},{"h":17.63,"v":973},{"h":17.89,"v":973},{"h":18.17,"v":910},{"h":18.34,"v":927},{"h":18.6,"v":910},{"h":18.85,"v":891},{"h":19.04,"v":836},{"h":19.26,"v":813},{"h":19.48,"v":832},{"h":19.74,"v":829},{"h":19.93,"v":841},{"h":20.15,"v":847},{"h":20.37,"v":852},{"h":20.56,"v":825},{"h":20.71,"v":860},{"h":20.94,"v":824},{"h":21.08,"v":818},{"h":21.16,"v":849},{"h":21.23,"v":839},{"h":21.38,"v":844},{"h":21.49,"v":863},{"h":21.68,"v":864},{"h":21.83,"v":839},{"h":22.09,"v":766},{"h":22.23,"v":762},{"h":22.42,"v":715},{"h":22.57,"v":665},{"h":22.75,"v":668},{"h":22.98,"v":692},{"h":23.16,"v":709},{"h":23.35,"v":685},{"h":23.5,"v":665},{"h":23.72,"v":548},{"h":24.02,"v":470},{"h":24.16,"v":452},{"h":24.28,"v":452},{"h":24.42,"v":473},{"h":24.65,"v":572},{"h":24.76,"v":579},{"h":24.94,"v":639},{"h":25.04,"v":681},{"h":25.28,"v":645},{"h":25.43,"v":629},{"h":25.57,"v":629},{"h":25.72,"v":681},{"h":25.94,"v":704},{"h":26.08,"v":704},{"h":26.32,"v":673},{"h":26.61,"v":634},{"h":26.72,"v":634},{"h":26.98,"v":595},{"h":27.21,"v":561},{"h":27.32,"v":579},{"h":27.5,"v":668},{"h":27.76,"v":634},{"h":27.99,"v":629},{"h":28.25,"v":610},{"h":28.39,"v":673},{"h":28.48,"v":678}],
"mid":[{"h":4.69,"v":392},{"h":4.77,"v":420},{"h":4.88,"v":411},{"h":5.03,"v":431},{"h":5.17,"v":498},{"h":5.26,"v":478},{"h":5.36,"v":491},{"h":5.47,"v":478},{"h":5.69,"v":506},{"h":5.84,"v":506},{"h":5.95,"v":556},{"h":6.21,"v":572},{"h":6.51,"v":623},{"h":6.6,"v":595},{"h":6.69,"v":631},{"h":6.77,"v":564},{"h":6.93,"v":494},{"h":7.1,"v":679},{"h":7.25,"v":595},{"h":7.36,"v":502},{"h":7.44,"v":473},{"h":7.53,"v":497},{"h":7.62,"v":473},{"h":7.84,"v":514},{"h":7.99,"v":498},{"h":8.25,"v":525},{"h":8.35,"v":553},{"h":8.44,"v":540},{"h":8.51,"v":548},{"h":8.6,"v":498},{"h":8.77,"v":517},{"h":8.96,"v":540},{"h":9.07,"v":572},{"h":9.18,"v":587},{"h":9.25,"v":584},{"h":9.42,"v":611},{"h":9.51,"v":584},{"h":9.61,"v":595},{"h":9.77,"v":551},{"h":9.92,"v":598},{"h":10.03,"v":586},{"h":10.11,"v":592},{"h":10.18,"v":572},{"h":10.35,"v":611},{"h":10.44,"v":579},{"h":10.55,"v":579},{"h":10.7,"v":603},{"h":10.77,"v":634},{"h":10.92,"v":642},{"h":11.14,"v":608},{"h":11.22,"v":611},{"h":11.29,"v":548},{"h":11.41,"v":533},{"h":11.52,"v":530},{"h":11.63,"v":400},{"h":11.93,"v":385},{"h":12.19,"v":393},{"h":12.34,"v":374},{"h":12.52,"v":385},{"h":12.74,"v":315},{"h":12.93,"v":311},{"h":13.08,"v":287},{"h":13.37,"v":276},{"h":13.52,"v":190},{"h":13.63,"v":128},{"h":13.78,"v":128},{"h":13.89,"v":143},{"h":14.08,"v":115},{"h":14.26,"v":97},{"h":14.56,"v":42},{"h":14.71,"v":42},{"h":14.85,"v":19},{"h":15.11,"v":16},{"h":15.19,"v":3},{"h":15.3,"v":34},{"h":15.56,"v":50},{"h":15.74,"v":19},{"h":15.97,"v":50},{"h":16.22,"v":73},{"h":16.45,"v":146},{"h":16.63,"v":151},{"h":16.74,"v":315},{"h":16.91,"v":369},{"h":17.04,"v":322},{"h":17.26,"v":350},{"h":17.35,"v":346},{"h":17.45,"v":260},{"h":17.57,"v":244},{"h":17.69,"v":302},{"h":17.97,"v":350},{"h":18.19,"v":273},{"h":18.41,"v":361},{"h":18.63,"v":388},{"h":18.97,"v":420},{"h":19.08,"v":427},{"h":19.25,"v":403},{"h":19.41,"v":463},{"h":19.58,"v":458},{"h":19.8,"v":685},{"h":20.08,"v":634},{"h":20.22,"v":657},{"h":20.41,"v":670},{"h":20.6,"v":579},{"h":20.71,"v":564},{"h":20.75,"v":579},{"h":20.84,"v":575},{"h":20.91,"v":525},{"h":21.01,"v":548},{"h":21.23,"v":575},{"h":21.49,"v":650},{"h":21.66,"v":668},{"h":21.75,"v":646},{"h":21.94,"v":634},{"h":22.09,"v":607},{"h":22.27,"v":639},{"h":22.49,"v":657},{"h":22.72,"v":660},{"h":22.98,"v":681},{"h":23.16,"v":709},{"h":23.31,"v":712},{"h":23.46,"v":731},{"h":23.57,"v":701},{"h":23.76,"v":696},{"h":23.87,"v":676},{"h":24.05,"v":668},{"h":24.2,"v":720},{"h":24.31,"v":692},{"h":24.39,"v":704},{"h":24.44,"v":685},{"h":24.59,"v":738},{"h":24.79,"v":688},{"h":24.91,"v":639},{"h":25.05,"v":688},{"h":25.2,"v":685},{"h":25.35,"v":685},{"h":25.57,"v":654},{"h":25.8,"v":735},{"h":25.94,"v":743},{"h":26.08,"v":779},{"h":26.2,"v":759},{"h":26.46,"v":743},{"h":26.58,"v":766},{"h":26.8,"v":785},{"h":26.98,"v":813},{"h":27.19,"v":790},{"h":27.43,"v":914},{"h":27.58,"v":919},{"h":27.76,"v":896},{"h":28.02,"v":930},{"h":28.25,"v":961},{"h":28.39,"v":992},{"h":28.48,"v":984}],
"large":[{"h":4.67,"v":0},{"h":4.77,"v":22},{"h":4.99,"v":34},{"h":5.1,"v":89},{"h":5.4,"v":97},{"h":5.55,"v":104},{"h":5.69,"v":128},{"h":5.95,"v":151},{"h":6.03,"v":182},{"h":6.1,"v":240},{"h":6.2,"v":213},{"h":6.36,"v":237},{"h":6.51,"v":283},{"h":6.67,"v":304},{"h":6.84,"v":276},{"h":6.99,"v":283},{"h":7.09,"v":245},{"h":7.18,"v":276},{"h":7.27,"v":221},{"h":7.34,"v":366},{"h":7.51,"v":374},{"h":7.66,"v":361},{"h":7.84,"v":385},{"h":7.99,"v":377},{"h":8.25,"v":405},{"h":8.44,"v":369},{"h":8.7,"v":377},{"h":8.85,"v":393},{"h":9.07,"v":396},{"h":9.18,"v":452},{"h":9.48,"v":442},{"h":9.66,"v":463},{"h":9.85,"v":393},{"h":10.03,"v":419},{"h":10.22,"v":374},{"h":10.44,"v":358},{"h":10.74,"v":338},{"h":10.96,"v":369},{"h":11.18,"v":361},{"h":11.41,"v":416},{"h":11.63,"v":436},{"h":11.82,"v":435},{"h":12.11,"v":459},{"h":12.34,"v":431},{"h":12.52,"v":470},{"h":12.82,"v":400},{"h":13.11,"v":377},{"h":13.41,"v":366},{"h":13.74,"v":327},{"h":13.93,"v":372},{"h":14.04,"v":366},{"h":14.17,"v":380},{"h":14.37,"v":346},{"h":14.52,"v":206},{"h":14.6,"v":190},{"h":14.74,"v":185},{"h":15.04,"v":229},{"h":15.34,"v":268},{"h":15.67,"v":335},{"h":16,"v":382},{"h":16.26,"v":374},{"h":16.45,"v":478},{"h":16.6,"v":458},{"h":16.89,"v":512},{"h":17,"v":455},{"h":17.19,"v":474},{"h":17.34,"v":587},{"h":17.45,"v":556},{"h":17.56,"v":551},{"h":17.78,"v":502},{"h":17.99,"v":559},{"h":18.17,"v":494},{"h":18.37,"v":502},{"h":18.41,"v":544},{"h":18.56,"v":505},{"h":18.85,"v":494},{"h":19,"v":536},{"h":19.08,"v":517},{"h":19.19,"v":650},{"h":19.37,"v":712},{"h":19.56,"v":712},{"h":19.74,"v":829},{"h":20,"v":727},{"h":20.15,"v":740},{"h":20.41,"v":732},{"h":20.67,"v":688},{"h":20.75,"v":692},{"h":20.97,"v":712},{"h":21.08,"v":673},{"h":21.31,"v":665},{"h":21.49,"v":668},{"h":21.68,"v":681},{"h":21.9,"v":673},{"h":22.09,"v":712},{"h":22.35,"v":704},{"h":22.53,"v":692},{"h":22.68,"v":696},{"h":22.83,"v":657},{"h":23.05,"v":673},{"h":23.31,"v":720},{"h":23.5,"v":751},{"h":23.68,"v":790},{"h":23.87,"v":805},{"h":23.93,"v":832},{"h":24.02,"v":824},{"h":24.15,"v":844},{"h":24.28,"v":818},{"h":24.39,"v":852},{"h":24.53,"v":868},{"h":24.66,"v":896},{"h":24.91,"v":829},{"h":25.13,"v":805},{"h":25.28,"v":805},{"h":25.35,"v":816},{"h":25.72,"v":813},{"h":25.87,"v":841},{"h":26.09,"v":863},{"h":26.32,"v":886},{"h":26.39,"v":930},{"h":26.58,"v":938},{"h":26.84,"v":922},{"h":27.06,"v":934},{"h":27.21,"v":969},{"h":27.47,"v":992},{"h":27.69,"v":984},{"h":27.99,"v":987},{"h":28.21,"v":977},{"h":28.36,"v":992},{"h":28.48,"v":992}],
"whale":[{"h":4.69,"v":623},{"h":6.03,"v":623},{"h":6.1,"v":419},{"h":14.08,"v":419},{"h":14.17,"v":615},{"h":14.42,"v":615},{"h":14.5,"v":392},{"h":15.26,"v":392},{"h":15.34,"v":193},{"h":15.76,"v":193},{"h":15.83,"v":0},{"h":17.82,"v":0},{"h":17.91,"v":217},{"h":24.07,"v":217},{"h":24.24,"v":800},{"h":24.33,"v":800},{"h":24.4,"v":995},{"h":28.06,"v":995},{"h":28.16,"v":785},{"h":28.48,"v":785}],
"flask":[{"i":1,"h":4.8,"v":0},{"i":2,"h":4.71,"v":34},{"i":3,"h":5.32,"v":237},{"i":4,"h":5.32,"v":327},{"i":5,"h":5.73,"v":327},{"i":6,"h":5.73,"v":237},{"i":7,"h":6.18,"v":112},{"i":8,"h":6.4,"v":0}],
"flaskFill":[{"h":4.77,"v":34,"z":0},{"h":5.03,"v":81,"z":0},{"h":5.32,"v":128,"z":0},{"h":5.77,"v":128,"z":0},{"h":5.99,"v":81,"z":0},{"h":6.21,"v":18,"z":0}],
"watermark":[{"h":6.62,"v":252,"t":"MATERIAL"},{"h":6.62,"v":98,"t":"INDICATORS"}],
"notes":[{"h":10.05,"v":201,"t":"곰지네 트레이딩 CVD","f":"k"},{"h":5.71,"v":57,"t":"Powered By Material Indictors","f":"e"}],
"outer":[{"h":22.55,"v":-410,"t":"https://t.me/oddstrading2"}],
"edge":[{"h":2.06,"h2":30.54,"v":-571}]
},
"vconcat":[
{"width":1072,"height":298,"title":{"text":"XRP_USDT","anchor":"start","frame":"group","font":"Liberation Sans","fontSize":18.5,"fontWeight":"bold","color":"#111","offset":6},
"layer":[
{"data":{"name":"heat"},"mark":{"type":"rect","clip":true,"strokeWidth":0.7},"encoding":{"x":{"field":"a","type":"quantitative","scale":{"domain":[4.62,28.47],"nice":false,"zero":false},"axis":null},"x2":{"field":"b"},"y":{"field":"lo","type":"quantitative","scale":{"domain":[553.7,600.63],"nice":false,"zero":false},"axis":{"orient":"right","title":"Price [USDT]","titlePadding":8,"values":[556,558,560,562,564,566,568,570,572,574,576,578,580,582,584,586,588,590,592,594,596,598,600],"grid":false,"domainColor":"#000","tickColor":"#000","tickSize":{"condition":{"test":"datum.value%10===0","value":7},"value":4},"labelPadding":6,"labelExpr":"datum.value%10===0?format(datum.value,'.2f')+' m':''","labelOverlap":false}},"y2":{"field":"hi"},"stroke":{"field":"v","type":"quantitative","scale":{"domain":[30,825,1620,2150],"range":["#000000","#ff0000","#ffff00","#ffffff"],"interpolate":"rgb","zero":false,"nice":false},"legend":null},"color":{"field":"v","type":"quantitative","scale":{"domain":[30,825,1620,2150],"range":["#000000","#ff0000","#ffff00","#ffffff"],"interpolate":"rgb","zero":false,"nice":false},"legend":{"orient":"none","legendX":-106,"legendY":22,"title":"Volume","titleFontSize":14,"titleFontStyle":"italic","titleFontWeight":"normal","titleColor":"#333","titlePadding":3,"gradientLength":248,"gradientThickness":29,"gradientStrokeColor":"#000","gradientStrokeWidth":1,"values":[500,1000,1500,2000],"labelExpr":"datum.value===2000?'\u200b\u00a0\u00a0\u00a02 M':datum.value===1500?'\u200b\u00a0\u00a01.5 M':datum.value===1000?'\u200b\u00a0\u00a0\u00a01 M':'500.0 k'","labelFontSize":12.5,"labelColor":"#444","labelOffset":5}}}},
{"data":{"name":"price"},"mark":{"type":"line","stroke":"#3a7ca5","strokeWidth":2.4,"strokeJoin":"round","clip":false},"encoding":{"x":{"field":"h","type":"quantitative"},"y":{"field":"p","type":"quantitative","axis":{"orient":"right","title":"Price [USDT]","titlePadding":8,"values":[556,558,560,562,564,566,568,570,572,574,576,578,580,582,584,586,588,590,592,594,596,598,600],"grid":false,"domainColor":"#000","tickColor":"#000","tickSize":{"condition":{"test":"datum.value%10===0","value":7},"value":4},"labelPadding":6,"labelExpr":"datum.value%10===0?format(datum.value,'.2f')+' m':''","labelOverlap":false}}}}
]},
{"width":1072,"height":214,"view":{"stroke":"#e5e5e5"},
"encoding":{"x":{"field":"h","type":"quantitative","scale":{"domain":[4.62,28.47],"nice":false,"zero":false},"axis":{"title":"Date (UTC)","titlePadding":10,"values":[8,12,16,20,24,28],"grid":true,"gridColor":"#e5e5e5","domainColor":"#000","tickColor":"#000","tickSize":7,"labelPadding":7,"labelExpr":"datum.value===24?'9/17':(datum.value%24)+'h'"}},"y":{"field":"v","type":"quantitative","scale":{"domain":[0,1000],"nice":false,"zero":false},"axis":{"title":"Normalized CVD [arb. u.]","titlePadding":9,"values":[0,40,80,120,160,200,240,280,320,360,400,440,480,520,560,600,640,680,720,760,800,840,880,920,960,1000],"grid":true,"gridColor":"#e5e5e5","gridOpacity":{"condition":{"test":"datum.value%200===0","value":1},"value":0},"domainColor":"#000","tickColor":"#000","tickSize":{"condition":{"test":"datum.value%200===0","value":7},"value":4},"labelPadding":6,"labelOverlap":false,"labelExpr":"datum.value===1000?'1.000':datum.value===0?'0':datum.value%200===0?format(datum.value,'.2f')+' m':''"}}},
"layer":[
{"data":{"name":"flaskFill"},"mark":{"type":"area","color":"#e4eef3"},"encoding":{"y2":{"field":"z"}}},
{"data":{"name":"flask"},"mark":{"type":"line","color":"#e3e3e3","strokeWidth":2},"encoding":{"order":{"field":"i"}}},
{"data":{"name":"watermark"},"mark":{"type":"text","align":"left","baseline":"middle","font":"Liberation Sans","fontWeight":"bold","fontSize":25,"color":"#e6e6e6"},"encoding":{"text":{"field":"t"}}},
{"data":{"name":"allOrders"},"mark":{"type":"line","strokeWidth":2.2,"strokeJoin":"round"},"encoding":{"color":{"datum":"all orders","scale":{"domain":["all orders","$100 < i < $1k","$1k < i < $10k","$10k < i < $100k","$100k < i < $1M","$1M < i < $10M"],"range":["#1f77b4","#ff7f0e","#2ca02c","#d62728","#9467bd","#8c564b"]},"legend":{"orient":"none","legendX":-94,"legendY":290,"direction":"horizontal","columns":6,"title":null,"symbolType":"stroke","symbolSize":440,"symbolStrokeWidth":2.5,"labelFontSize":12.2,"labelColor":"#444","labelOffset":6,"columnPadding":-1,"padding":10,"strokeColor":"#eeeeee","fillColor":"#ffffff","labelLimit":200}}}},
{"data":{"name":"small"},"mark":{"type":"line","strokeWidth":2.2,"strokeJoin":"round"},"encoding":{"color":{"datum":"$100 < i < $1k"}}},
{"data":{"name":"mid"},"mark":{"type":"line","strokeWidth":2.2,"strokeJoin":"round"},"encoding":{"color":{"datum":"$1k < i < $10k"}}},
{"data":{"name":"large"},"mark":{"type":"line","strokeWidth":2.2,"strokeJoin":"round"},"encoding":{"color":{"datum":"$10k < i < $100k"}}},
{"data":{"name":"whale"},"mark":{"type":"line","strokeWidth":2.2,"strokeJoin":"round"},"encoding":{"color":{"datum":"$100k < i < $1M"}}},
{"data":{"name":"notes"},"transform":[{"filter":"datum.f==='k'"}],"mark":{"type":"text","align":"center","baseline":"middle","font":"Noto Sans CJK KR","fontWeight":500,"fontSize":27,"color":"#000"},"encoding":{"text":{"field":"t"}}},
{"data":{"name":"notes"},"transform":[{"filter":"datum.f==='e'"}],"mark":{"type":"text","align":"left","baseline":"middle","font":"Noto Sans CJK KR","fontWeight":500,"fontSize":25,"color":"#000"},"encoding":{"text":{"field":"t"}}},
{"data":{"name":"outer"},"mark":{"type":"text","align":"left","baseline":"middle","font":"Noto Sans CJK KR","fontWeight":500,"fontSize":25,"color":"#000"},"encoding":{"text":{"field":"t"}}},
{"data":{"name":"edge"},"mark":{"type":"rule","color":"#8a8a8a","strokeWidth":2},"encoding":{"x2":{"field":"h2"}}}
]}
]}
